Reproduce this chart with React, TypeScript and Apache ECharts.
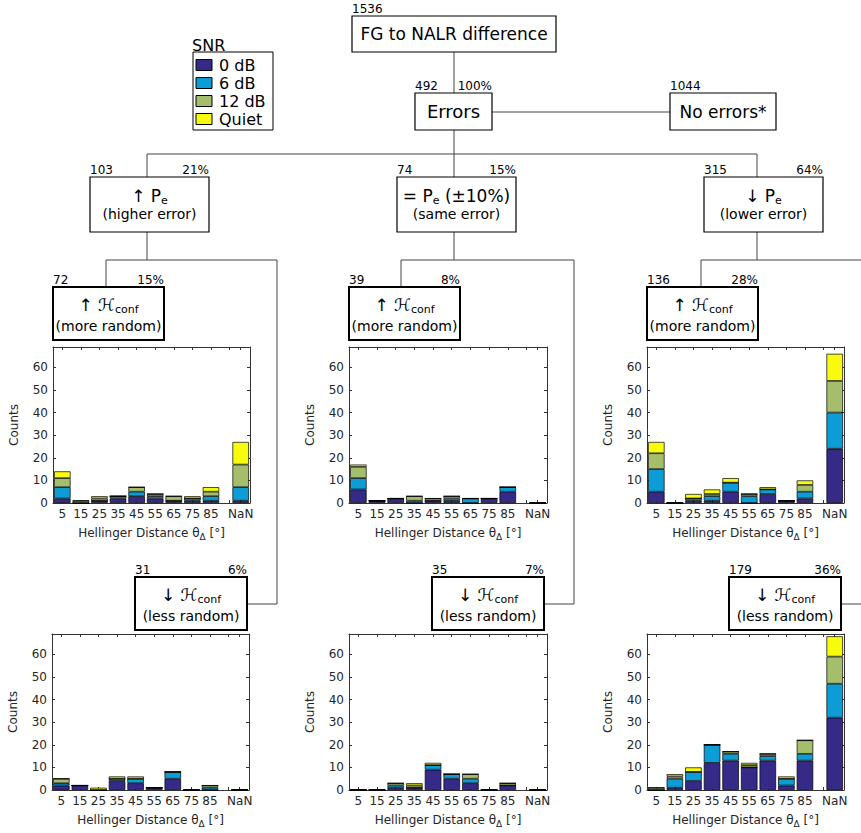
import React, { useEffect, useRef } from "react";
import * as echarts from "echarts";

// ---------- data ----------
const categories = ["5", "15", "25", "35", "45", "55", "65", "75", "85", "NaN"];
// position of each bin on the Hellinger-distance axis (NaN bin placed past 90°)
const binCenters = [5, 15, 25, 35, 45, 55, 65, 75, 85, 101];
const xTickValues = [5, 15, 25, 35, 45, 55, 65, 75, 85, 95, 101];
const snrNames = ["0 dB", "6 dB", "12 dB", "Quiet"];
const snrColors = ["#352a87", "#0d9dd6", "#a5be6b", "#f9fb0e"];
const yTicks = [0, 10, 20, 30, 40, 50, 60];

// higher error, more random (72)
const hiMore_0dB = [2, 0, 1, 2, 3, 2, 1, 1, 1, 1];
const hiMore_6dB = [5, 0, 0, 1, 2, 1, 0, 1, 2, 6];
const hiMore_12dB = [4, 1, 1, 0, 2, 1, 2, 0, 2, 10];
const hiMore_quiet = [3, 0, 1, 0, 0, 0, 0, 1, 2, 10];
// same error, more random (39)
const sameMore_0dB = [6, 1, 2, 0, 1, 1, 0, 2, 5, 0];
const sameMore_6dB = [5, 0, 0, 1, 0, 1, 2, 0, 2, 0];
const sameMore_12dB = [5, 0, 0, 2, 1, 1, 0, 0, 0, 0];
const sameMore_quiet = [1, 0, 0, 0, 0, 0, 0, 0, 0, 0];
// lower error, more random (136)
const loMore_0dB = [5, 0, 1, 1, 5, 0, 4, 1, 2, 24];
const loMore_6dB = [10, 0, 1, 2, 4, 3, 2, 0, 3, 16];
const loMore_12dB = [7, 0, 0, 1, 0, 1, 0, 0, 3, 14];
const loMore_quiet = [5, 0, 2, 2, 2, 0, 1, 0, 2, 12];
// higher error, less random (31)
const hiLess_0dB = [2, 2, 0, 4, 3, 1, 5, 0, 0, 0];
const hiLess_6dB = [1, 0, 0, 1, 2, 0, 3, 0, 1, 0];
const hiLess_12dB = [2, 0, 0, 0, 0, 0, 0, 0, 1, 0];
const hiLess_quiet = [0, 0, 1, 1, 1, 0, 0, 0, 0, 0];
// same error, less random (35)
const sameLess_0dB = [0, 0, 1, 1, 9, 5, 3, 0, 2, 0];
const sameLess_6dB = [0, 0, 1, 0, 2, 2, 2, 0, 0, 0];
const sameLess_12dB = [0, 0, 1, 1, 0, 0, 2, 0, 1, 0];
const sameLess_quiet = [0, 0, 0, 1, 1, 0, 0, 0, 0, 0];
// lower error, less random (179)
const loLess_0dB = [0, 1, 4, 12, 13, 10, 13, 2, 13, 32];
const loLess_6dB = [0, 4, 4, 8, 3, 0, 2, 3, 3, 15];
const loLess_12dB = [1, 1, 0, 0, 1, 1, 1, 0, 6, 12];
const loLess_quiet = [0, 1, 2, 0, 0, 1, 0, 1, 0, 9];

// tree node texts
const rootCount = "1536";
const errorsCount = "492";
const errorsPct = "100%";
const noErrorsCount = "1044";
const peCounts = ["103", "74", "315"];
const pePcts = ["21%", "15%", "64%"];
const moreCounts = ["72", "39", "136"];
const morePcts = ["15%", "8%", "28%"];
const lessCounts = ["31", "35", "179"];
const lessPcts = ["6%", "7%", "36%"];

const panelData = [
  [hiMore_0dB, hiMore_6dB, hiMore_12dB, hiMore_quiet],
  [sameMore_0dB, sameMore_6dB, sameMore_12dB, sameMore_quiet],
  [loMore_0dB, loMore_6dB, loMore_12dB, loMore_quiet],
  [hiLess_0dB, hiLess_6dB, hiLess_12dB, hiLess_quiet],
  [sameLess_0dB, sameLess_6dB, sameLess_12dB, sameLess_quiet],
  [loLess_0dB, loLess_6dB, loLess_12dB, loLess_quiet],
];

// ---------- layout ----------
const FONT = "DejaVu Sans";
const gridRects = [
  { left: 53, top: 347, width: 197, height: 156 },
  { left: 349, top: 347, width: 198, height: 156 },
  { left: 647, top: 347, width: 197, height: 156 },
  { left: 52, top: 634, width: 197, height: 156 },
  { left: 349, top: 634, width: 198, height: 156 },
  { left: 647, top: 634, width: 197, height: 156 },
];

// axis slots: 2°-wide slots spanning 0..106°, centred on odd values
const slots = Array.from({ length: 53 }, (_, m) => 2 * m + 1);
const slotNames = slots.map((s) => String(s));
const slotLabel = (name: string) => {
  const idx = binCenters.indexOf(Number(name));
  return idx >= 0 ? categories[idx] : "";
};

function buildOption() {
  const grid: any[] = [];
  const xAxis: any[] = [];
  const yAxis: any[] = [];
  const series: any[] = [];
  const axisColor = "#333";
  const tickInterval = (_i: number, v: string) => xTickValues.includes(Number(v));
  const labelInterval = (_i: number, v: string) => binCenters.includes(Number(v));
  gridRects.forEach((g, i) => {
    grid.push({ ...g, containLabel: false });
    xAxis.push({
      type: "category",
      gridIndex: i,
      data: slotNames,
      position: "bottom",
      axisLine: { show: true, onZero: false, lineStyle: { color: axisColor, width: 1 } },
      axisTick: { show: true, inside: true, alignWithLabel: true, length: 3, interval: tickInterval, lineStyle: { color: axisColor } },
      axisLabel: {
        fontSize: 12,
        fontFamily: FONT,
        color: "#262626",
        margin: 5,
        interval: labelInterval,
        formatter: (v: string) => slotLabel(v),
      },
      name: "{n|Hellinger Distance θ}{s|Δ}{n| [°]}",
      nameLocation: "middle",
      nameGap: 22,
      nameTextStyle: {
        rich: {
          n: { fontSize: 12, fontFamily: FONT, color: "#262626" },
          s: { fontSize: 9, fontFamily: FONT, color: "#262626", padding: [7, 0, 0, 0] },
        },
      },
    });
    xAxis.push({
      type: "category",
      gridIndex: i,
      data: slotNames,
      position: "top",
      axisLine: { show: true, onZero: false, lineStyle: { color: axisColor, width: 1 } },
      axisTick: { show: true, inside: true, alignWithLabel: true, length: 3, interval: tickInterval, lineStyle: { color: axisColor } },
      axisLabel: { show: false },
    });
    yAxis.push({
      type: "value",
      gridIndex: i,
      position: "left",
      min: 0,
      max: 69,
      interval: 10,
      axisLine: { show: true, onZero: false, lineStyle: { color: axisColor, width: 1 } },
      axisTick: { show: true, inside: true, length: 3, lineStyle: { color: axisColor } },
      splitLine: { show: false },
      axisLabel: {
        fontSize: 12,
        fontFamily: FONT,
        color: "#262626",
        margin: 5,
        formatter: (v: number) => (yTicks.includes(v) ? String(v) : ""),
      },
      name: "Counts",
      nameLocation: "middle",
      nameGap: 33,
      nameTextStyle: { fontSize: 12, fontFamily: FONT, color: "#262626" },
    });
    yAxis.push({
      type: "value",
      gridIndex: i,
      position: "right",
      min: 0,
      max: 69,
      interval: 10,
      axisLine: { show: true, onZero: false, lineStyle: { color: axisColor, width: 1 } },
      axisTick: { show: true, inside: true, length: 3, lineStyle: { color: axisColor } },
      splitLine: { show: false },
      axisLabel: { show: false },
    });
    panelData[i].forEach((arr, k) => {
      series.push({
        type: "bar",
        name: snrNames[k],
        xAxisIndex: 2 * i,
        yAxisIndex: 2 * i,
        stack: "p" + i,
        data: slots.map((s) => {
          const j = binCenters.indexOf(s);
          return j >= 0 ? arr[j] : null;
        }),
        barWidth: 16.5,
        itemStyle: { color: snrColors[k], borderColor: "#000", borderWidth: 0.7 },
        emphasis: { disabled: true },
      });
    });
  });

  const g: any[] = [];
  const lineC = "#444";
  const line = (x1: number, y1: number, x2: number, y2: number) =>
    g.push({ type: "line", shape: { x1, y1, x2, y2 }, style: { stroke: lineC, lineWidth: 1 }, z: 1 });
  const box = (x: number, y: number, w: number, h: number, lw: number) =>
    g.push({ type: "rect", shape: { x, y, width: w, height: h }, style: { fill: "#fff", stroke: "#000", lineWidth: lw }, z: 2 });
  const txt = (x: number, y: number, text: string, size: number, align: string, vAlign: string, rich?: any) =>
    g.push({
      type: "text",
      x,
      y,
      z: 3,
      style: {
        text,
        fontSize: size,
        fontFamily: FONT,
        fill: "#000",
        align,
        verticalAlign: vAlign,
        rich,
      },
    });
  const labels = (x: number, y: number, w: number, count: string, pct: string) => {
    txt(x, y - 1, count, 12, "left", "bottom");
    if (pct) txt(x + w, y - 1, pct, 12, "right", "bottom");
  };

  // connectors
  line(454, 52, 454, 93);
  line(492, 112, 670, 112);
  line(454, 130, 454, 177);
  line(147, 154, 757, 154);
  line(147, 154, 147, 177);
  line(757, 154, 757, 177);
  const peX = [90, 397, 704];
  const peDrop = [147, 454, 757];
  const hLeft = [106, 401, 701];
  const hRight = [277, 574, 866];
  const moreX = [53, 349, 647];
  const lessX = [135, 432, 729];
  for (let c = 0; c < 3; c++) {
    line(peDrop[c], 232, peDrop[c], 260);
    line(hLeft[c], 260, hRight[c], 260);
    line(hLeft[c], 260, hLeft[c], 287);
    line(hRight[c], 260, hRight[c], 604);
    line(lessX[c] + 112, 604, hRight[c], 604);
  }

  // root
  box(352, 16, 204, 36, 1.2);
  txt(454, 34, "FG to NALR difference", 17, "center", "middle");
  labels(352, 16, 204, rootCount, "");
  // errors
  box(415, 93, 77, 37, 1.2);
  txt(453.5, 111.5, "Errors", 18, "center", "middle");
  labels(415, 93, 77, errorsCount, errorsPct);
  box(670, 93, 106, 37, 1.2);
  txt(723, 111.5, "No errors*", 17, "center", "middle");
  labels(670, 93, 106, noErrorsCount, "");

  const peLines = [
    "{a|↑ P}{s|e}",
    "{a|= P}{s|e}{a| (±10%)}",
    "{a|↓ P}{s|e}",
  ];
  const peSub = ["(higher error)", "(same error)", "(lower error)"];
  const rich1 = {
    a: { fontSize: 17, fontFamily: FONT, color: "#000" },
    s: { fontSize: 11, fontFamily: FONT, color: "#000", padding: [9, 0, 0, 0] },
  };
  const richH = {
    a: { fontSize: 17, fontFamily: FONT, color: "#000" },
    h: { fontSize: 17, fontFamily: FONT, color: "#000" },
    s: { fontSize: 11, fontFamily: FONT, color: "#000", padding: [8, 0, 0, 0] },
  };
  for (let c = 0; c < 3; c++) {
    box(peX[c], 177, 119, 55, 1.2);
    labels(peX[c], 177, 119, peCounts[c], pePcts[c]);
    txt(peX[c] + 59.5, 196, peLines[c], 17, "center", "middle", rich1);
    txt(peX[c] + 59.5, 214, peSub[c], 14, "center", "middle");

    box(moreX[c], 287, 111, 53, 2);
    labels(moreX[c], 287, 111, moreCounts[c], morePcts[c]);
    txt(moreX[c] + 55.5, 305, "{a|↑ }{h|ℋ}{s|conf}", 17, "center", "middle", richH);
    txt(moreX[c] + 55.5, 326, "(more random)", 14, "center", "middle");

    box(lessX[c], 577, 112, 53, 2);
    labels(lessX[c], 577, 112, lessCounts[c], lessPcts[c]);
    txt(lessX[c] + 56, 595, "{a|↓ }{h|ℋ}{s|conf}", 17, "center", "middle", richH);
    txt(lessX[c] + 56, 616, "(less random)", 14, "center", "middle");
  }

  // legend
  txt(192, 45, "SNR", 16, "left", "middle");
  box(193, 52, 80, 78, 1);
  const legY = [65, 83, 101, 119];
  for (let k = 0; k < 4; k++) {
    g.push({
      type: "rect",
      shape: { x: 196, y: legY[k] - 5.5, width: 16, height: 11 },
      style: { fill: snrColors[k], stroke: "#000", lineWidth: 1 },
      z: 3,
    });
    txt(219, legY[k], snrNames[k], 16, "left", "middle");
  }

  return {
    animation: false,
    backgroundColor: "#fff",
    textStyle: { fontFamily: FONT },
    grid,
    xAxis,
    yAxis,
    series,
    graphic: { elements: g },
  };
}

export default function App() {
  const ref = useRef<HTMLDivElement>(null);
  useEffect(() => {
    if (!ref.current) return;
    const chart = echarts.init(ref.current, undefined, { renderer: "svg" });
    chart.setOption(buildOption() as any);
    return () => chart.dispose();
  }, []);
  return (
    <div
      ref={ref}
      style={{ position: "absolute", left: 0, top: 0, width: 861, height: 833, background: "#fff" }}
    />
  );
}
